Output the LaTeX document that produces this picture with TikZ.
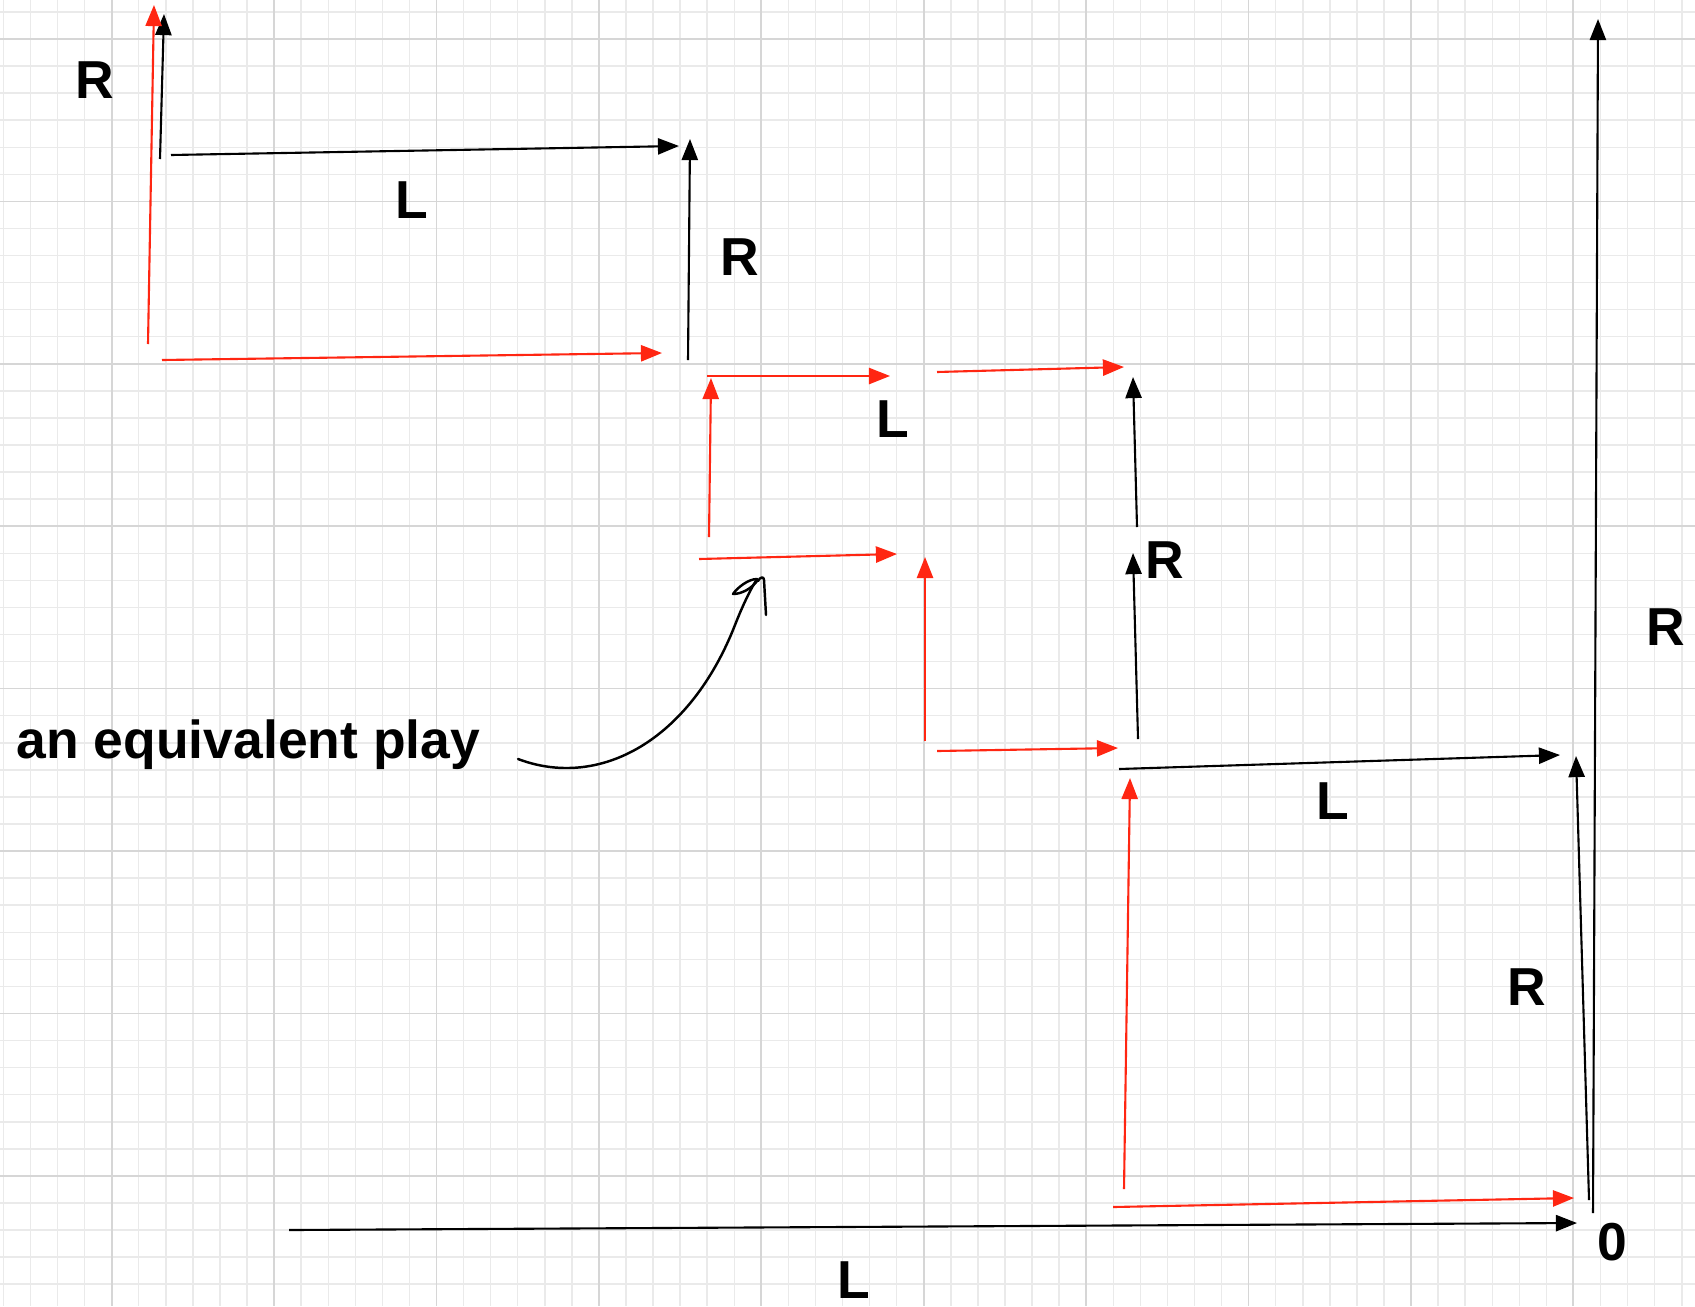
\documentclass[tikz,border=0pt]{standalone}
\usepackage{fontspec}
\setmainfont{Liberation Sans}
\usetikzlibrary{arrows.meta}
\definecolor{altred}{RGB}{255,38,18}
\definecolor{gridminor}{RGB}{234,234,234}
\definecolor{gridmajor}{RGB}{214,214,214}

\begin{document}
\begin{tikzpicture}[x=0.01cm, y=-0.01cm,
  mv/.style={line width=0.6pt, -{Triangle[length=6pt,width=4.6pt]}},
  mainmove/.style={mv, draw=black, fill=black},
  altmove/.style={mv, draw=altred, fill=altred},
  lbl/.style={font=\fontsize{15.2}{18}\selectfont\bfseries, inner sep=0pt},
  ink/.style={line width=0.7pt, line cap=round, line join=round}]

% paper with a square grid
\useasboundingbox (0,0) rectangle (1695,1306);
\fill[white] (0,0) rectangle (1695,1306);
\begin{scope}
  \clip (0,0) rectangle (1695,1306);
  \foreach \i in {0,...,62}
    \draw[gridminor, line width=0.42pt] ({3.4+\i*27.07},0) -- ({3.4+\i*27.07},1306);
  \foreach \j in {0,...,48}
    \draw[gridminor, line width=0.42pt] (0,{11.9+\j*27.07}) -- (1695,{11.9+\j*27.07});
  \foreach \i in {0,...,9}
    \draw[gridmajor, line width=0.5pt] ({111.7+\i*162.4},0) -- ({111.7+\i*162.4},1306);
  \foreach \j in {0,...,7}
    \draw[gridmajor, line width=0.5pt] (0,{39+\j*162.4}) -- (1695,{39+\j*162.4});
\end{scope}

% end points of the moves
\coordinate (b1s) at (160,159);  \coordinate (b1e) at (164,14);
\coordinate (b2s) at (171,155);  \coordinate (b2e) at (679,146);
\coordinate (b3s) at (688,360);  \coordinate (b3e) at (690,139);
\coordinate (b4s) at (1137,527); \coordinate (b4e) at (1133,377);
\coordinate (b5s) at (1138,739); \coordinate (b5e) at (1133,553);
\coordinate (b6s) at (1119,769); \coordinate (b6e) at (1560,755);
\coordinate (b7s) at (1589,1200);\coordinate (b7e) at (1576,756);
\coordinate (b8s) at (1593,1213);\coordinate (b8e) at (1598,19);
\coordinate (b9s) at (289,1230); \coordinate (b9e) at (1577,1223);

\coordinate (r1s) at (148,344);  \coordinate (r1e) at (154,5);
\coordinate (r2s) at (162,360);  \coordinate (r2e) at (662,353);
\coordinate (r3s) at (709,537);  \coordinate (r3e) at (711,378);
\coordinate (r4s) at (707,376);  \coordinate (r4e) at (890,376);
\coordinate (r5s) at (937,372);  \coordinate (r5e) at (1124,367);
\coordinate (r6s) at (699,559);  \coordinate (r6e) at (897,554);
\coordinate (r7s) at (925,741);  \coordinate (r7e) at (925,557);
\coordinate (r8s) at (937,751);  \coordinate (r8e) at (1118,748);
\coordinate (r9s) at (1124,1189);\coordinate (r9e) at (1130,778);
\coordinate (r10s) at (1113,1207);\coordinate (r10e) at (1574,1198);

% the original play
\draw[mainmove] (b1s) -- (b1e);
\draw[mainmove] (b2s) -- (b2e);
\draw[mainmove] (b3s) -- (b3e);
\draw[mainmove] (b4s) -- (b4e);
\draw[mainmove] (b5s) -- (b5e);
\draw[mainmove] (b6s) -- (b6e);
\draw[mainmove] (b7s) -- (b7e);
\draw[mainmove] (b8s) -- (b8e);
\draw[mainmove] (b9s) -- (b9e);

% the equivalent play
\draw[altmove] (r1s) -- (r1e);
\draw[altmove] (r2s) -- (r2e);
\draw[altmove] (r3s) -- (r3e);
\draw[altmove] (r4s) -- (r4e);
\draw[altmove] (r5s) -- (r5e);
\draw[altmove] (r6s) -- (r6e);
\draw[altmove] (r7s) -- (r7e);
\draw[altmove] (r8s) -- (r8e);
\draw[altmove] (r9s) -- (r9e);
\draw[altmove] (r10s) -- (r10e);

% move labels
\node[lbl] (lR1) at (95,80) {R};
\node[lbl] (lL1) at (412,200) {L};
\node[lbl] (lR2) at (740,257) {R};
\node[lbl] (lL2) at (893,419) {L};
\node[lbl] (lR3) at (1165,560) {R};
\node[lbl] (lR4) at (1666,627) {R};
\node[lbl] (lL3) at (1333,801) {L};
\node[lbl] (lR5) at (1527,987) {R};
\node[lbl] (lzero) at (1612,1242) {0};
\node[lbl] (lL4) at (854,1280) {L};
\node[lbl, anchor=base west] (note) at (16,758) {an equivalent play};

% hand-drawn pointer from the note
\coordinate (ptrS) at (518,759);
\coordinate (ptrE) at (757,579);
\draw[ink] (ptrS) .. controls (600,790) and (690,740) .. (735,625)
  .. controls (742,607) and (750,590) .. (ptrE);
\draw[ink] (ptrE) .. controls (748,579) and (737,588) .. (733,594)
  .. controls (742,594) and (752,588) .. (757,581);
\draw[ink] (758,581) .. controls (760,577) and (764,576) .. (764,580) -- (766,615);
\end{tikzpicture}
\end{document}
